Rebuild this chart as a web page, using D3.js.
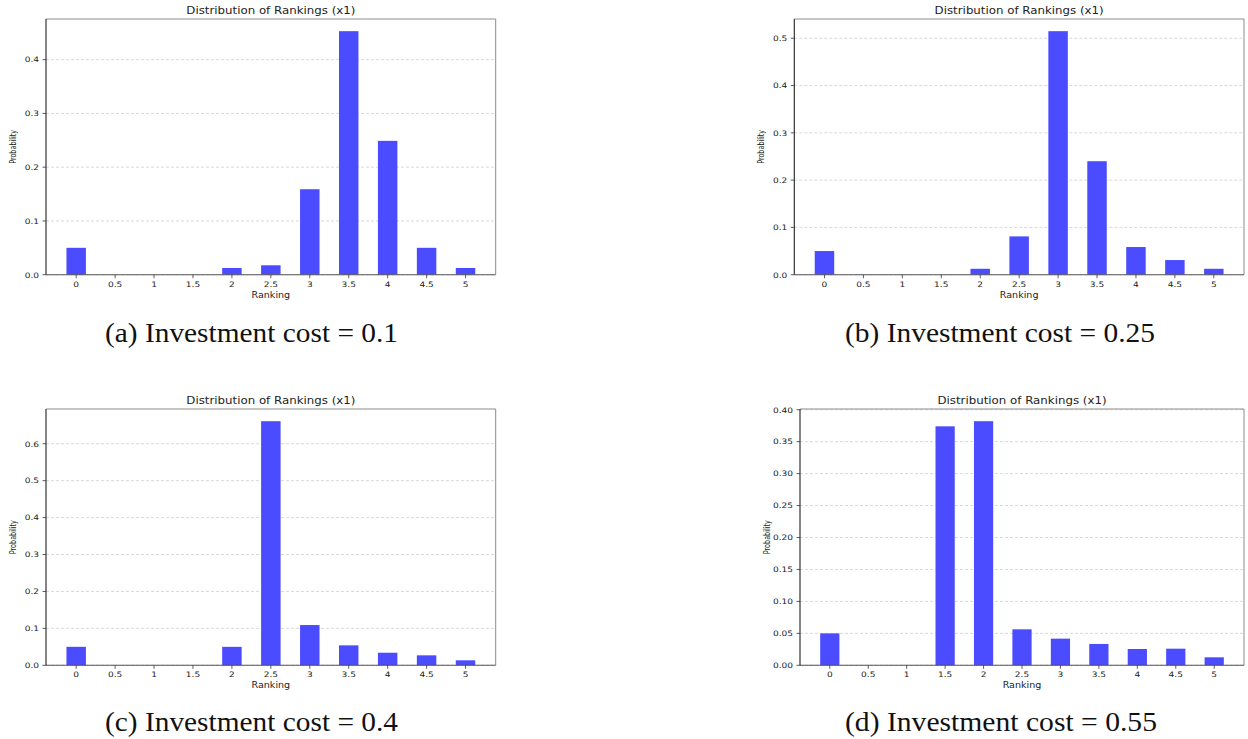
<!DOCTYPE html>
<html>
<head>
<meta charset="utf-8">
<script src="https://cdn.jsdelivr.net/npm/d3@7"></script>
<style>
  html, body { margin: 0; padding: 0; background: #fff; }
  svg { display: block; }
</style>
</head>
<body>
<svg id="chart" width="1248" height="739"></svg>
<script>
// ---- Data ----
const rankings = ["0", "0.5", "1", "1.5", "2", "2.5", "3", "3.5", "4", "4.5", "5"];
const probA = [0.05, 0, 0, 0, 0.0125, 0.0175, 0.159, 0.453, 0.249, 0.05, 0.0125];
const probB = [0.05, 0, 0, 0, 0.0125, 0.081, 0.515, 0.24, 0.0585, 0.031, 0.0125];
const probC = [0.05, 0, 0, 0, 0.05, 0.661, 0.109, 0.054, 0.034, 0.027, 0.0135];
const probD = [0.05, 0, 0, 0.374, 0.382, 0.0563, 0.0417, 0.0334, 0.0255, 0.026, 0.0125];
const yTicksA = [0, 0.1, 0.2, 0.3, 0.4];
const yTicksB = [0, 0.1, 0.2, 0.3, 0.4, 0.5];
const yTicksC = [0, 0.1, 0.2, 0.3, 0.4, 0.5, 0.6];
const yTicksD = [0, 0.05, 0.1, 0.15, 0.2, 0.25, 0.3, 0.35, 0.4];
const panelTitle = "Distribution of Rankings (x1)";
const xLabel = "Ranking";
const yLabel = "Probability";
const captions = ["(a) Investment cost = 0.1", "(b) Investment cost = 0.25",
                  "(c) Investment cost = 0.4", "(d) Investment cost = 0.55"];

const svg = d3.select("#chart");
const SX = 1.2; // horizontal stretch of the source image text
const sans = "DejaVu Sans, sans-serif";

function stretch(sel, factor) {
  sel.each(function () {
    const len = this.getComputedTextLength();
    d3.select(this).attr("textLength", len * factor).attr("lengthAdjust", "spacingAndGlyphs");
  });
}

const panels = [
  { values: probA, ticks: yTicksA, fmt: ".1f", left: 46, right: 495.7, top: 19, bottom: 274.7, cap: captions[0], capX: 105, capY: 342, capW: 293 },
  { values: probB, ticks: yTicksB, fmt: ".1f", left: 794.3, right: 1244, top: 19, bottom: 274.7, cap: captions[1], capX: 845, capY: 342, capW: 310 },
  { values: probC, ticks: yTicksC, fmt: ".1f", left: 46, right: 495.7, top: 409, bottom: 665.3, cap: captions[2], capX: 105, capY: 731, capW: 293 },
  { values: probD, ticks: yTicksD, fmt: ".2f", left: 800, right: 1244, top: 409, bottom: 665.3, cap: captions[3], capX: 845, capY: 731, capW: 312 }
];

panels.forEach(p => {
  const g = svg.append("g");
  const n = rankings.length;
  const barW = 0.5;
  const pad = (n - 1 + barW) * 0.05;
  const x = d3.scaleLinear()
    .domain([-barW / 2 - pad, n - 1 + barW / 2 + pad])
    .range([p.left, p.right]);
  const y = d3.scaleLinear()
    .domain([0, d3.max(p.values) * 1.05])
    .range([p.bottom, p.top]);

  // grid
  g.append("g").selectAll("line").data(p.ticks).join("line")
    .attr("x1", p.left).attr("x2", p.right)
    .attr("y1", d => y(d)).attr("y2", d => y(d))
    .attr("stroke", "#cfcfcf").attr("stroke-width", 0.8)
    .attr("stroke-dasharray", "3,2");

  // bars
  g.append("g").selectAll("rect").data(p.values).join("rect")
    .attr("x", (d, i) => x(i - barW / 2))
    .attr("width", (d, i) => x(i + barW / 2) - x(i - barW / 2))
    .attr("y", d => y(d))
    .attr("height", d => y(0) - y(d))
    .attr("fill", "#4b4bff");

  // spines
  g.append("line").attr("x1", p.left).attr("x2", p.right).attr("y1", p.top).attr("y2", p.top)
    .attr("stroke", "#8c8c8c").attr("stroke-width", 1);
  g.append("line").attr("x1", p.right).attr("x2", p.right).attr("y1", p.top).attr("y2", p.bottom)
    .attr("stroke", "#8c8c8c").attr("stroke-width", 1);
  g.append("line").attr("x1", p.left).attr("x2", p.right).attr("y1", p.bottom).attr("y2", p.bottom)
    .attr("stroke", "#555").attr("stroke-width", 1.1);
  g.append("line").attr("x1", p.left).attr("x2", p.left).attr("y1", p.top).attr("y2", p.bottom)
    .attr("stroke", "#222").attr("stroke-width", 1.1);

  // y axis ticks
  const fmt = d3.format(p.fmt);
  const yt = g.append("g");
  yt.selectAll("line").data(p.ticks).join("line")
    .attr("x1", p.left - 3.5).attr("x2", p.left)
    .attr("y1", d => y(d)).attr("y2", d => y(d))
    .attr("stroke", "#333").attr("stroke-width", 0.8);
  yt.selectAll("text").data(p.ticks).join("text")
    .attr("x", p.left - 7).attr("y", d => y(d) + 2.8)
    .attr("text-anchor", "end")
    .attr("font-family", sans).attr("font-size", 7.5).attr("fill", "#222")
    .text(d => fmt(d))
    .call(stretch, SX);

  // x axis ticks
  const xt = g.append("g");
  xt.selectAll("line").data(rankings).join("line")
    .attr("x1", (d, i) => x(i)).attr("x2", (d, i) => x(i))
    .attr("y1", p.bottom).attr("y2", p.bottom + 3.5)
    .attr("stroke", "#333").attr("stroke-width", 0.8);
  xt.selectAll("text").data(rankings).join("text")
    .attr("x", (d, i) => x(i)).attr("y", p.bottom + 11.8)
    .attr("text-anchor", "middle")
    .attr("font-family", sans).attr("font-size", 7.5).attr("fill", "#222")
    .text(d => d)
    .call(stretch, SX);

  const cx = (p.left + p.right) / 2;
  // title
  g.append("text")
    .attr("x", cx).attr("y", p.top - 5)
    .attr("text-anchor", "middle")
    .attr("font-family", sans).attr("font-size", 10).attr("fill", "#222")
    .text(panelTitle)
    .call(stretch, 1.18);

  // x label
  g.append("text")
    .attr("x", cx).attr("y", p.bottom + 23)
    .attr("text-anchor", "middle")
    .attr("font-family", sans).attr("font-size", 8.3).attr("fill", "#222")
    .text(xLabel)
    .call(stretch, 1.15);

  // y label
  g.append("text")
    .attr("transform", `translate(${p.left - 30},${(p.top + p.bottom) / 2}) rotate(-90)`)
    .attr("text-anchor", "middle")
    .attr("font-family", sans).attr("font-size", 8.5).attr("fill", "#222")
    .attr("textLength", 34).attr("lengthAdjust", "spacingAndGlyphs")
    .text(yLabel);

  // caption
  svg.append("text")
    .attr("x", p.capX).attr("y", p.capY)
    .attr("font-family", "Liberation Serif, serif").attr("font-size", 27.5).attr("fill", "#111")
    .attr("textLength", p.capW).attr("lengthAdjust", "spacingAndGlyphs")
    .text(p.cap);
});
</script>
</body>
</html>
